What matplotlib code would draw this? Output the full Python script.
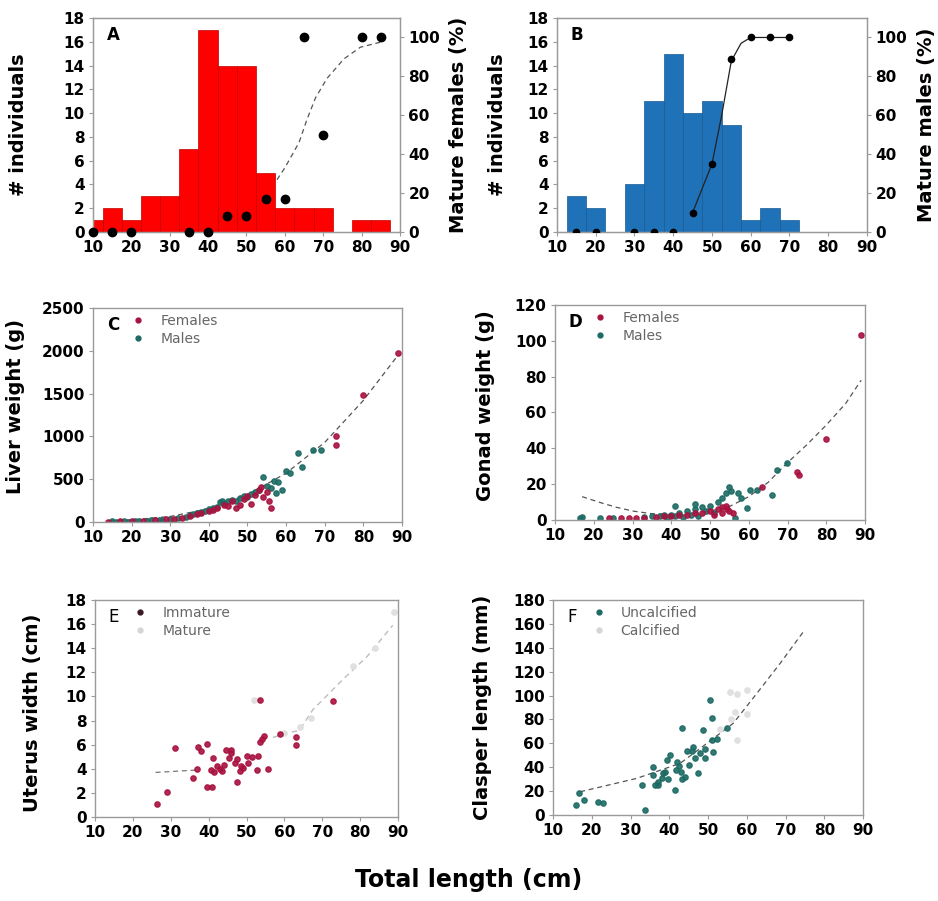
import matplotlib.pyplot as plt
from matplotlib.lines import Line2D

plt.rcParams['font.family'] = ['DejaVu Sans']
plt.rcParams['font.weight'] = 'bold'

# ---- data ----
bins = [10, 15, 20, 25, 30, 35, 40, 45, 50, 55, 60, 65, 70, 75, 80, 85]
fem_counts = [1, 2, 1, 3, 3, 7, 17, 14, 14, 5, 2, 2, 2, 0, 1, 1]
male_bins = [15, 20, 25, 30, 35, 40, 45, 50, 55, 60, 65, 70]
male_counts = [3, 2, 0, 4, 11, 15, 10, 11, 9, 1, 2, 1]

fem_mat_x = [10, 15, 20, 35, 40, 45, 50, 55, 60, 65, 70, 80, 85]
fem_mat_y = [0, 0, 0, 0, 0, 8, 8, 17, 17, 100, 50, 100, 100]
fem_fit_x = [55, 58, 60, 62, 63.7, 65.8, 68, 71, 75.4, 79.7, 85.8]
fem_fit_y = [20, 27, 33, 40, 46, 58, 69, 79, 89, 95, 98]

male_mat_x = [15, 20, 30, 35, 40, 45, 50, 55, 60, 65, 70]
male_mat_y = [0, 0, 0, 0, 0, 10, 35, 89, 100, 100, 100]
male_fit_x = [45, 50, 52.5, 55, 57.5, 60, 65, 70]
male_fit_y = [10, 35, 60, 88, 97, 100, 100, 100]

# C: liver weight
liver_f_x = [14, 17, 20, 23, 26, 29, 31, 33, 35, 37, 38, 40, 41, 42, 44, 45, 46, 47, 48, 49,
             50, 51, 52, 53, 53.5, 54, 55, 55.5, 56, 73, 73, 80, 89]
liver_f_y = [5, 8, 10, 15, 22, 30, 40, 50, 70, 90, 110, 130, 140, 160, 200, 190, 240, 160, 200, 270,
             300, 210, 320, 380, 410, 290, 350, 240, 160, 1010, 900, 1480, 1970]
liver_m_x = [15, 16, 18, 19, 21, 22, 24, 25, 27, 28, 30, 32, 34, 35, 36, 37, 38, 39, 40, 41,
             42, 43, 43.5, 44, 45, 46, 47, 48, 49, 50, 51, 52, 53, 54, 55, 56, 57, 57.5, 58, 59,
             60, 61, 63, 64, 67, 69]
liver_m_y = [10, 5, 10, 5, 8, 12, 15, 18, 22, 25, 35, 45, 60, 80, 90, 110, 120, 130, 150, 160,
             180, 230, 250, 220, 250, 260, 240, 280, 300, 290, 330, 350, 370, 530, 420, 400, 480, 340, 470, 370,
             600, 570, 810, 640, 840, 840]
liver_fit_x = [14, 20, 30, 40, 50, 60, 70, 80, 89]
liver_fit_y = [15, 25, 65, 155, 320, 570, 930, 1420, 1950]

# D: gonad weight
gonad_f_x = [24, 27, 29, 31, 33, 36, 38, 40, 42, 44, 46, 48, 50, 52, 53, 54, 54.5, 55, 56, 53,
             51, 63.3, 72.5, 73, 80, 89]
gonad_f_y = [1, 1, 1.2, 1, 1, 1.5, 2, 2, 3, 3, 4, 4, 5, 6, 7, 8, 6, 5, 4, 4,
             3, 18.6, 27, 25, 45, 103]
gonad_m_x = [16.5, 17, 21.5, 25, 33, 35, 37, 38, 39, 40, 41, 42, 43, 44, 45, 46, 47, 48, 49, 50,
             51, 52, 53, 54, 55, 55.5, 56.5, 57.3, 58, 59.5, 60.3, 62, 65.9, 67.2, 69.8, 41, 46]
gonad_m_y = [1, 1.5, 1, 1, 1.5, 2, 2, 3, 1, 3, 2, 4, 1.5, 5, 3, 6, 2, 7, 5, 8,
             4, 10, 12, 15, 18.6, 16, 1, 14.9, 12, 6.5, 16.8, 17, 14, 27.9, 31.7, 8, 9]
gonad_fit_x = [17, 22, 26, 30, 35, 40, 45, 50, 55, 60, 65, 70, 75, 80, 85, 89]
gonad_fit_y = [13, 9.5, 7, 5, 3.5, 3, 3.5, 5, 7.5, 13, 21, 32, 42, 53, 65, 78]

# E: uterus width
uter_imm_x = [26.3, 28.9, 31.1, 35.9, 36.8, 37.3, 38.0, 39.5, 39.5, 40.8, 40.5, 41.2, 41.5, 42.3,
              43.0, 43.5, 44.7, 45.5, 45.9, 46.9, 47.4, 48.3, 48.5, 50.0, 50.4, 52.7, 53.1, 53.5,
              54.0, 54.6, 53.5, 55.7, 58.8, 63.2, 63.0, 72.9, 44.0, 46.0, 47.5, 49.0, 51.5]
uter_imm_y = [1.1, 2.1, 5.7, 3.2, 4.0, 5.8, 5.5, 6.1, 2.5, 2.5, 3.9, 4.9, 3.7, 4.2,
              4.0, 3.8, 5.6, 4.9, 5.6, 4.5, 2.9, 3.8, 4.2, 5.1, 4.5, 3.9, 5.1, 6.2,
              6.5, 6.7, 9.7, 4.0, 6.9, 6.6, 6.0, 9.6, 4.3, 5.3, 4.8, 4.1, 5.0]
uter_mat_x = [52, 60, 64, 67, 78, 84, 89]
uter_mat_y = [9.7, 7.0, 7.5, 8.2, 12.5, 14, 17]
uter_fit1_x = [26, 37]
uter_fit1_y = [3.7, 3.9]
uter_fit2_x = [57, 60, 64, 67.5, 71, 75.4, 81.8, 88.6]
uter_fit2_y = [6.6, 6.9, 7.2, 8.9, 10, 11.4, 13.3, 15.9]

# F: clasper length
clasp_u_x = [15.8, 16.6, 17.9, 21.6, 22.9, 33.7, 32.9, 35.8, 35.8, 36.3, 37.2, 38.4, 39.7, 41.4,
             39.3, 40.2, 41.7, 42.5, 43.4, 44.0, 44.5, 45.8, 46.7, 47.3, 49.2, 49.2, 43.2, 48.8,
             50.5, 51.0, 51.4, 51.0, 52.3, 54.8, 37.0, 38.0, 39.0, 42.0, 43.0, 45.0, 46.0, 48.0]
clasp_u_y = [8.4, 18.1, 12.6, 11.1, 9.8, 4.2, 25.0, 33.5, 40.5, 25.0, 25.0, 34.9, 30.0, 21.0,
             46.0, 50.0, 38.0, 41.0, 30.0, 32.0, 54.0, 54.0, 48.0, 35.0, 47.5, 55.0, 72.6, 71.2,
             96.3, 81.0, 53.0, 62.8, 64.0, 72.6, 28.0, 31.0, 36.0, 44.0, 36.0, 42.0, 57.0, 52.0]
clasp_c_x = [55.7, 57.4, 60, 56.9, 56, 57.4, 53, 60]
clasp_c_y = [103, 101, 105, 86, 80, 63, 72, 85]
clasp_fit_x = [17, 31.6, 42.8, 49.7, 56.5, 62.6, 68.6, 74.6]
clasp_fit_y = [19.5, 30.7, 43.3, 60, 76.8, 101.9, 127, 153.5]

red = '#ff0000'
blue = '#1f72b8'
fem_col = '#a8123f'
male_col = '#1d6a64'
frame = '#9a9a9a'

fig = plt.figure(figsize=(9.38, 9.01), dpi=100)


def style(ax, ylim, yticks):
    ax.set_xlim(10, 90)
    ax.set_xticks(range(10, 91, 10))
    ax.set_ylim(*ylim)
    ax.set_yticks(yticks)
    for s in ax.spines.values():
        s.set_color(frame)
        s.set_linewidth(1)
    ax.tick_params(direction='out', length=3, color=frame, labelsize=11, pad=3)


def style_right(ax2):
    for s in ax2.spines.values():
        s.set_color(frame)
    ax2.set_ylim(0, 110)
    ax2.set_yticks(range(0, 101, 20))
    ax2.tick_params(direction='out', length=3, color=frame, labelsize=11, pad=3)


def letter(ax, t, bold=True):
    ax.text(0.045, 0.92, t, transform=ax.transAxes, fontsize=12,
            fontweight='bold' if bold else 'normal', va='center')


def legend(ax, labels, colors):
    handles = [Line2D([], [], ls='none', marker='o', ms=3.5, color=c) for c in colors]
    ax.legend(handles, labels, loc='upper left', bbox_to_anchor=(0.075, 1.03), frameon=False,
              handlelength=1.4, handletextpad=0.9, labelspacing=0.25,
              prop={'size': 10, 'weight': 'normal'}, labelcolor='#666666')


# ---- A ----
axA = fig.add_axes([0.0991, 0.7425, 0.3273, 0.2375])
axA2 = axA.twinx()
axA.bar(bins, fem_counts, width=5, color=red, edgecolor='#c40000', linewidth=0.5, zorder=2)
axA.plot(fem_fit_x, fem_fit_y, transform=axA2.transData, ls=(0, (4, 3)), color='#555555',
         lw=0.9, zorder=1)
axA2.plot(fem_mat_x, fem_mat_y, 'o', color='black', ms=6, clip_on=False, zorder=3)
style(axA, (0, 18), range(0, 19, 2))
style_right(axA2)
axA.set_ylabel('# individuals', fontsize=14, fontweight='bold')
axA.yaxis.set_label_coords(-0.21, 0.5)
axA2.set_ylabel('Mature females (%)', fontsize=14, fontweight='bold')
axA2.yaxis.set_label_coords(1.16, 0.5)
letter(axA, 'A')

# ---- B ----
axB = fig.add_axes([0.5938, 0.7425, 0.3305, 0.2375])
axB2 = axB.twinx()
axB.bar(male_bins, male_counts, width=5, color=blue, edgecolor='#165a91', linewidth=0.5, zorder=2)
axB2.plot(male_fit_x, male_fit_y, '-', color='#222222', lw=0.9, zorder=3)
axB2.plot(male_mat_x, male_mat_y, 'o', color='black', ms=4.5, zorder=4)
style(axB, (0, 18), range(0, 19, 2))
style_right(axB2)
axB.set_ylabel('# individuals', fontsize=14, fontweight='bold')
axB.yaxis.set_label_coords(-0.16, 0.5)
axB2.set_ylabel('Mature males (%)', fontsize=14, fontweight='bold')
axB2.yaxis.set_label_coords(1.16, 0.5)
letter(axB, 'B')

# ---- C ----
axC = fig.add_axes([0.0991, 0.4206, 0.3294, 0.2375])
axC.plot(liver_fit_x, liver_fit_y, ls=(0, (4, 3)), color='#555555', lw=0.9)
axC.plot(liver_m_x, liver_m_y, 'o', color=male_col, ms=3.8, alpha=0.9)
axC.plot(liver_f_x, liver_f_y, 'o', color=fem_col, ms=3.8, alpha=0.9)
style(axC, (0, 2500), range(0, 2501, 500))
axC.set_ylabel('Liver weight (g)', fontsize=14, fontweight='bold')
axC.yaxis.set_label_coords(-0.22, 0.54)
legend(axC, ['Females', 'Males'], [fem_col, male_col])
letter(axC, 'C')

# ---- D ----
axD = fig.add_axes([0.5917, 0.4229, 0.3305, 0.2386])
axD.plot(gonad_fit_x, gonad_fit_y, ls=(0, (4, 3)), color='#555555', lw=0.9)
axD.plot(gonad_m_x, gonad_m_y, 'o', color=male_col, ms=3.8, alpha=0.9)
axD.plot(gonad_f_x, gonad_f_y, 'o', color=fem_col, ms=3.8, alpha=0.9)
style(axD, (0, 120), range(0, 121, 20))
axD.set_ylabel('Gonad weight (g)', fontsize=14, fontweight='bold')
axD.yaxis.set_label_coords(-0.195, 0.53)
legend(axD, ['Females', 'Males'], [fem_col, male_col])
letter(axD, 'D')

# ---- E ----
axE = fig.add_axes([0.1013, 0.0932, 0.323, 0.2408])
axE.plot(uter_fit1_x, uter_fit1_y, ls=(0, (4, 3)), color='#777777', lw=0.9)
axE.plot(uter_fit2_x, uter_fit2_y, ls=(0, (4, 3)), color='#bdbdbd', lw=1.0)
axE.plot(uter_mat_x, uter_mat_y, 'o', color='#e0e0e0', ms=3.8)
axE.plot(uter_imm_x, uter_imm_y, 'o', color=fem_col, ms=3.8, alpha=0.9)
style(axE, (0, 18), range(0, 19, 2))
axE.set_ylabel('Uterus width (cm)', fontsize=14, fontweight='bold')
axE.yaxis.set_label_coords(-0.175, 0.48)
legend(axE, ['Immature', 'Mature'], ['#3a1a24', '#d5d5d5'])
letter(axE, 'E', bold=False)

# ---- F ----
axF = fig.add_axes([0.5896, 0.0954, 0.3305, 0.2386])
axF.plot(clasp_fit_x, clasp_fit_y, ls=(0, (4, 3)), color='#555555', lw=0.9)
axF.plot(clasp_c_x, clasp_c_y, 'o', color='#e0e0e0', ms=3.8)
axF.plot(clasp_u_x, clasp_u_y, 'o', color=male_col, ms=3.8, alpha=0.9)
style(axF, (0, 180), range(0, 181, 20))
axF.set_ylabel('Clasper length (mm)', fontsize=14, fontweight='bold')
axF.yaxis.set_label_coords(-0.197, 0.5)
legend(axF, ['Uncalcified', 'Calcified'], [male_col, '#d5d5d5'])
letter(axF, 'F', bold=False)

fig.text(0.5, 0.023, 'Total length (cm)', ha='center', va='center', fontsize=17, fontweight='bold')

fig.savefig('out.png', dpi=100)
